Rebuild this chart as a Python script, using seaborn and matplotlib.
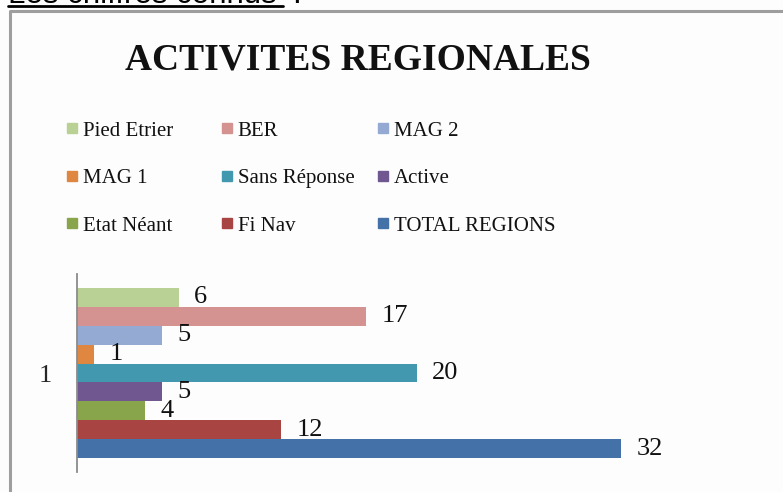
import matplotlib
matplotlib.use("Agg")
import matplotlib.pyplot as plt
from matplotlib.lines import Line2D
import pandas as pd
import seaborn as sns

# series, top to bottom as drawn
series = ["Pied Etrier", "BER", "MAG 2", "MAG 1", "Sans Réponse",
          "Active", "Etat Néant", "Fi Nav", "TOTAL REGIONS"]
values = [6, 17, 5, 1, 20, 5, 4, 12, 32]
colors = ["#BAD195", "#D49291", "#94AAD3", "#DF8641", "#4299AF",
          "#71578F", "#88A54B", "#A84442", "#4472A8"]
category = "1"

# legend layout, row by row like the original
legend_rows = [["Pied Etrier", "BER", "MAG 2"],
               ["MAG 1", "Sans Réponse", "Active"],
               ["Etat Néant", "Fi Nav", "TOTAL REGIONS"]]

df = pd.DataFrame({"cat": [category] * len(series), "serie": series, "valeur": values})

W, H = 783, 492
sns.set_style("white")
plt.rcParams["font.family"] = ["Liberation Serif", "DejaVu Serif"]

fig = plt.figure(figsize=(W / 100, H / 100), dpi=100)
fig.patch.set_facecolor("#FDFDFD")

def fx(px):
    return px / W

def fy(py):
    return 1 - py / H

ax = fig.add_axes([fx(77), fy(472), fx(672) - fx(77), (472 - 274) / H])
ax.set_facecolor("#FDFDFD")
palette = dict(zip(series, colors))
sns.barplot(data=df, x="valeur", y="cat", hue="serie", hue_order=series,
            palette=palette, orient="h", width=0.86, dodge=True,
            legend=False, saturation=1, linewidth=0, ax=ax)

for cont in ax.containers:
    ax.bar_label(cont, fmt="%d", padding=11, fontsize=19, color="#111111")

ax.set_xlim(0, 35)
ax.set_ylim(0.5, -0.5)
ax.set_xlabel("")
ax.set_ylabel("")
ax.set_xticks([])
ax.tick_params(axis="y", length=0, pad=18, labelsize=19)
for s in ["top", "right", "bottom"]:
    ax.spines[s].set_visible(False)
ax.spines["left"].set_color("#8C8C8C")
ax.spines["left"].set_linewidth(1.3)

# title
fig.text(fx(358), fy(60), "ACTIVITES REGIONALES", ha="center", va="center",
         fontsize=27, fontweight="bold", color="#111111")

# legend: one legend per column so columns sit at fixed positions
col_x = [67, 222, 378]
for c in range(3):
    labels = [row[c] for row in legend_rows]
    handles = [Line2D([], [], marker="s", linestyle="", markersize=7,
                      markerfacecolor=palette[l], markeredgecolor=palette[l])
               for l in labels]
    leg = fig.legend(handles, labels, loc="upper left",
                     bbox_to_anchor=(fx(col_x[c]), fy(121)),
                     frameon=False, fontsize=15, handlelength=0.45,
                     handletextpad=0.3, borderpad=0, borderaxespad=0,
                     labelspacing=1.34)
    for t in leg.get_texts():
        t.set_color("#111111")

# chart frame (only the left and top edges are in view)
fig.add_artist(Line2D([fx(9.5), fx(9.5), fx(W)], [fy(H), fy(11), fy(11)],
                      color="#9E9E9E", linewidth=2.2))

# cut-off heading above the chart
fig.text(fx(8), fy(3), "Les chiffres connus", ha="left", va="baseline",
         fontsize=22.5, family="Liberation Sans", color="black")
fig.text(fx(292), fy(3), ":", ha="left", va="baseline",
         fontsize=22.5, family="Liberation Sans", color="black")
fig.add_artist(Line2D([fx(8), fx(283)], [fy(5.5), fy(5.5)],
                      color="black", linewidth=2))

fig.savefig("out.png", dpi=100, facecolor=fig.get_facecolor())
